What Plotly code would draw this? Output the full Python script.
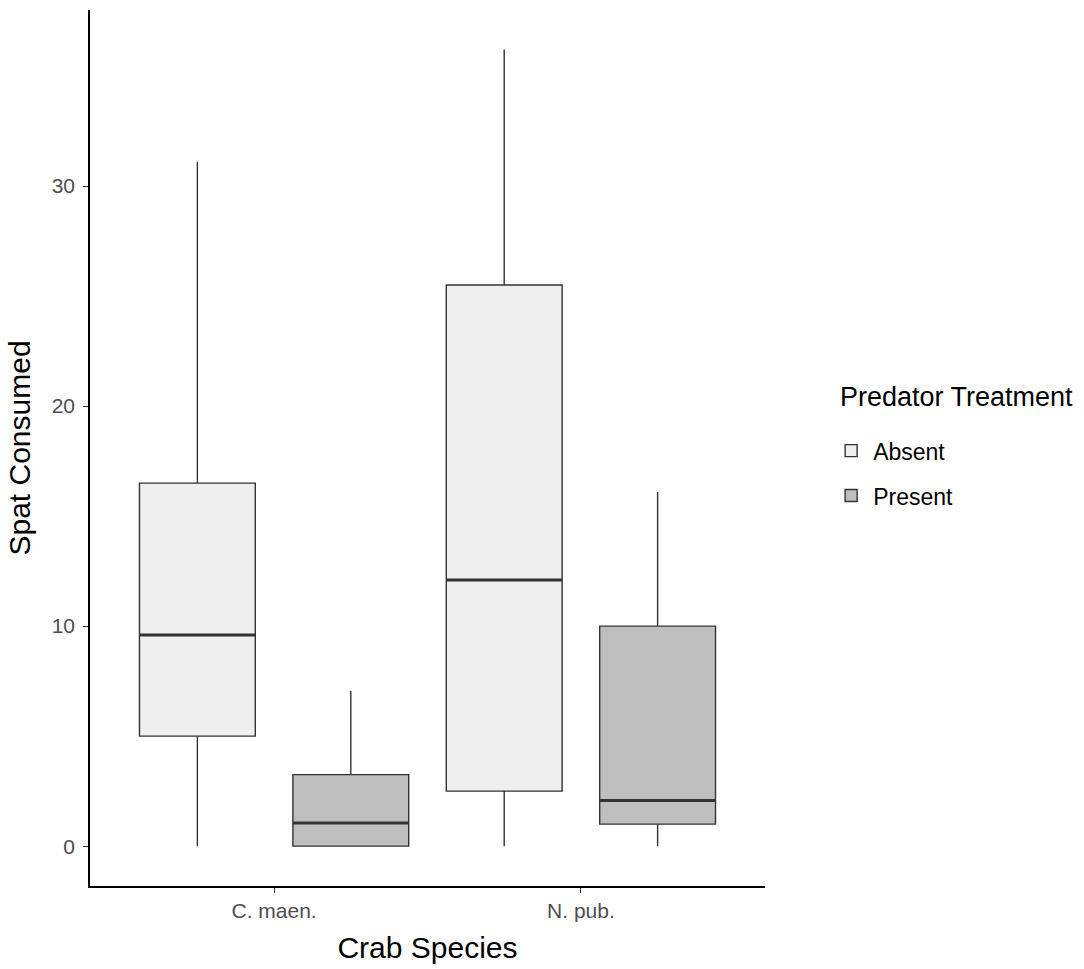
import plotly.graph_objects as go

species = ["C. maen.", "N. pub."]
treatments = ["Absent", "Present"]
fills = {"Absent": "#EFEFEF", "Present": "#BEBEBE"}

# box statistics per treatment, ordered by species
q1 = {"Absent": [5.0, 2.5], "Present": [0.0, 1.0]}
median = {"Absent": [9.6, 12.1], "Present": [1.05, 2.08]}
q3 = {"Absent": [16.5, 25.5], "Present": [3.25, 10.0]}
lowerfence = {"Absent": [0.0, 0.0], "Present": [0.0, 0.0]}
upperfence = {"Absent": [31.1, 36.2], "Present": [7.05, 16.1]}

ytick_vals = [0, 10, 20, 30]

BOXGAP = 0.0
BOXGROUPGAP = 0.245

fig = go.Figure()
for t in treatments:
    fig.add_trace(go.Box(
        name=t,
        legendgroup=t,
        x=species,
        q1=q1[t], median=median[t], q3=q3[t],
        lowerfence=lowerfence[t], upperfence=upperfence[t],
        fillcolor=fills[t],
        line=dict(color="#333333", width=1.4),
        whiskerwidth=0,
        boxpoints=False,
        hoverinfo="skip",
    ))

# thicker median lines (ggplot style)
slot = (1 - BOXGAP) / len(treatments)
half_w = slot * (1 - BOXGROUPGAP) / 2
for ti, t in enumerate(treatments):
    off = -(1 - BOXGAP) / 2 + slot * (ti + 0.5)
    for si, s in enumerate(species):
        c = si + off
        fig.add_shape(type="line", xref="x", yref="y",
                      x0=c - half_w, x1=c + half_w,
                      y0=median[t][si], y1=median[t][si],
                      line=dict(color="#333333", width=3))

fig.add_annotation(
    text="Predator Treatment", xref="paper", yref="paper",
    x=1.108, y=0.558, xanchor="left", yanchor="middle",
    showarrow=False, font=dict(size=27, color="black"),
)

fig.update_layout(
    width=1084, height=969,
    margin=dict(l=90, r=319, t=10, b=83),
    paper_bgcolor="white", plot_bgcolor="white",
    boxmode="group", boxgap=BOXGAP, boxgroupgap=BOXGROUPGAP,
    font=dict(family="Liberation Sans, Arial, sans-serif", color="black"),
    showlegend=True,
    legend=dict(
        font=dict(size=23, color="black"),
        x=1.095, xanchor="left", y=0.5215, yanchor="top",
        traceorder="grouped", tracegroupgap=12,
        itemwidth=34,
        bgcolor="rgba(0,0,0,0)",
    ),
    xaxis=dict(
        title=dict(text="Crab Species", font=dict(size=30, color="black"), standoff=16),
        type="category", range=[-0.6, 1.6],
        showline=True, linecolor="black", linewidth=1.5,
        ticks="outside", ticklen=5, tickcolor="#333333", tickwidth=1.2,
        tickfont=dict(size=21, color="#4D4D4D"),
        showgrid=False, zeroline=False,
    ),
    yaxis=dict(
        title=dict(text="Spat Consumed", font=dict(size=30, color="black"), standoff=12),
        range=[-1.81, 38.0],
        tickvals=ytick_vals,
        ticklabelstandoff=4,
        showline=True, linecolor="black", linewidth=1.5,
        ticks="outside", ticklen=5, tickcolor="#333333", tickwidth=1.2,
        tickfont=dict(size=21, color="#4D4D4D"),
        showgrid=False, zeroline=False,
    ),
)

fig.write_html("out.html")
